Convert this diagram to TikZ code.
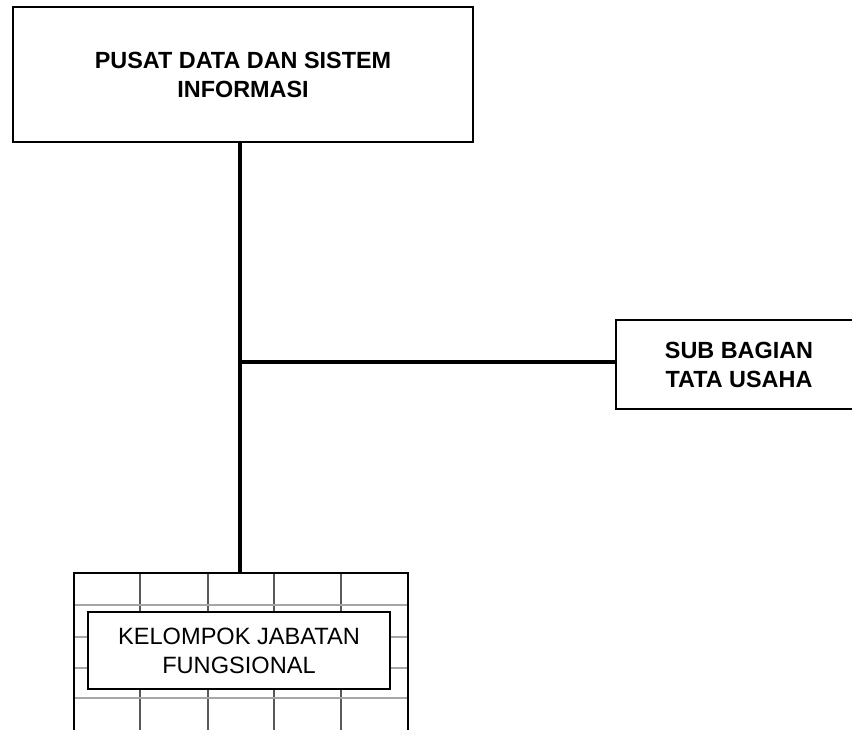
\documentclass[tikz,border=0pt]{standalone}
\usepackage{fontspec}
\setmainfont{Liberation Sans}
\begin{document}
\begin{tikzpicture}[x=1pt,y=-1pt,
  box/.style={draw=black, line width=2pt, fill=white, align=center, inner sep=0pt},
  bigtxt/.style={font=\fontsize{23.4}{29}\selectfont\bfseries},
  regtxt/.style={font=\fontsize{23.6}{29}\selectfont},
  conn/.style={draw=black, line width=4pt},
  gridv/.style={draw=black!65, line width=1.3pt},
  gridh/.style={draw=black!35, line width=1.3pt}]
\useasboundingbox (0,0) rectangle (852,729);
\fill[white] (0,0) rectangle (852,729);
% top box
\node[box, bigtxt, minimum width=460pt, minimum height=135pt] (top) at (243,74.5)
  {PUSAT DATA DAN SISTEM\\INFORMASI};
% right box
\node[box, bigtxt, minimum width=246pt, minimum height=89pt] (sub) at (739,364.5)
  {SUB BAGIAN\\TATA USAHA};
% bottom grid box
\node[draw=black, line width=2pt, minimum width=334pt, minimum height=167pt, inner sep=0pt] (kjf) at (241,656.5) {};
\foreach \gx in {140,208,274,341} \draw[gridv] (\gx,574) -- (\gx,745);
\foreach \gy in {605,637,668,698} \draw[gridh] (75,\gy) -- (407,\gy);
\node[box, regtxt, minimum width=302pt, minimum height=77pt] (kjfin) at (239,650.5)
  {KELOMPOK JABATAN\\FUNGSIONAL};
% connectors
\coordinate (j) at (240,362);
\draw[conn] (j |- top.south) -- (j |- kjf.north);
\draw[conn] (j) -- (j -| sub.west);
\end{tikzpicture}
\end{document}
